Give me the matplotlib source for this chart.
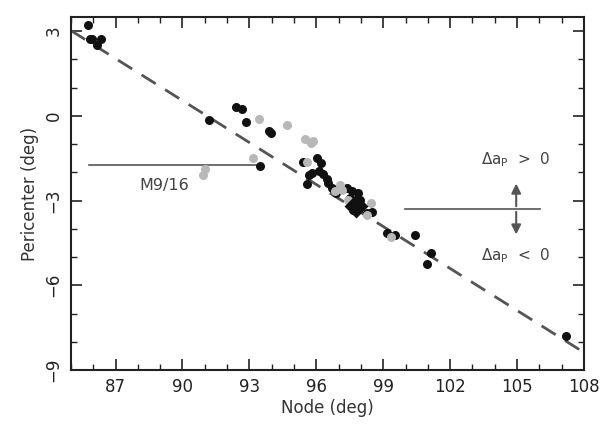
import matplotlib
matplotlib.use("Agg")
import matplotlib.pyplot as plt

plt.rcParams['font.family'] = ['DejaVu Sans']
plt.rcParams['mathtext.fontset'] = 'dejavusans'

# Data
black_node = [85.75, 85.85, 85.96, 86.15, 86.36, 91.20, 92.42, 92.68, 92.83, 93.88, 93.98,
              95.42, 96.02, 96.20, 93.48, 95.69, 95.57, 95.79, 96.13, 96.31, 96.47, 96.54,
              96.69, 96.88, 97.60, 97.88, 97.96, 97.81, 97.66, 97.51, 97.36, 98.48, 98.25,
              99.16, 99.53, 100.43, 101.14, 100.95, 107.2]
black_peri = [3.22, 2.72, 2.72, 2.51, 2.73, -0.15, 0.32, 0.23, -0.20, -0.53, -0.62,
              -1.62, -1.50, -1.68, -1.78, -2.09, -2.40, -2.01, -1.95, -2.06, -2.25, -2.39,
              -2.57, -2.73, -2.66, -2.74, -2.98, -3.22, -3.33, -2.91, -2.57, -3.39, -3.45,
              -4.16, -4.22, -4.22, -4.87, -5.25, -7.80]

gray_node = [93.44, 94.67, 95.51, 95.75, 95.84, 95.56, 93.18, 91.01, 90.91, 96.84, 97.06,
             97.14, 97.43, 98.44, 98.26, 99.34]
gray_peri = [-0.12, -0.32, -0.83, -0.97, -0.88, -1.65, -1.50, -1.89, -2.11, -2.67, -2.45,
             -2.63, -2.98, -3.07, -3.51, -4.28]

nominal_node = [97.78]
nominal_peri = [-3.19]

fit_node = [85.0, 108.0]
fit_peri = [3.02, -8.38]

xticks = [87, 90, 93, 96, 99, 102, 105, 108]
yticks = [3, 0, -3, -6, -9]

fig = plt.figure(figsize=(6.04, 4.26), dpi=100)
ax = fig.add_axes([0.1175, 0.1315, 0.8494, 0.8285])

ax.plot(fit_node, fit_peri, color='#555555', lw=2.0, dashes=(6, 4), zorder=2)
ax.plot(black_node, black_peri, 'o', color='#111111', ms=6.5, mec='none', zorder=3)
ax.plot(gray_node, gray_peri, 'o', color='#b8b8b8', ms=6.5, mec='none', zorder=4)
ax.plot(nominal_node, nominal_peri, 'D', color='#111111', ms=12, mec='none', zorder=5)

# Annotations
ax.plot([85.81, 93.48], [-1.74, -1.74], color='#555555', lw=1.2, zorder=1)
ax.text(89.2, -2.45, 'M9/16', ha='center', va='center', fontsize=11.5, color='#444444')

ax.plot([99.98, 106.03], [-3.30, -3.30], color='#555555', lw=1.2, zorder=1)
ax.annotate('', xy=(104.96, -2.30), xytext=(104.96, -3.30),
            arrowprops=dict(arrowstyle='-|>', color='#555555', lw=1.5, mutation_scale=14))
ax.annotate('', xy=(104.96, -4.30), xytext=(104.96, -3.30),
            arrowprops=dict(arrowstyle='-|>', color='#555555', lw=1.5, mutation_scale=14))
ax.text(104.96, -1.56, r'$\Delta$a$_\mathrm{P}$  >  0', ha='center', va='center',
        fontsize=11, color='#444444')
ax.text(104.96, -4.96, r'$\Delta$a$_\mathrm{P}$  <  0', ha='center', va='center',
        fontsize=11, color='#444444')

ax.set_xlim(85, 108)
ax.set_ylim(-9, 3.5)
ax.set_xticks(xticks)
ax.set_yticks(yticks)
ax.set_yticklabels(['3', '0', '\u22123', '\u22126', '\u22129'])
ax.set_xticks(range(85, 109), minor=True)
ax.set_yticks(range(-9, 4), minor=True)
ax.tick_params(which='both', direction='in', top=True, right=True, labelsize=12,
               color='#222222', labelcolor='#222222')
ax.tick_params(which='major', length=8, width=1.2, pad=6)
ax.tick_params(which='minor', length=4, width=1.0)
for lab in ax.get_yticklabels():
    lab.set_rotation(90)
    lab.set_va('center')
for s in ax.spines.values():
    s.set_linewidth(1.5)
    s.set_color('#222222')

ax.set_xlabel('Node (deg)', fontsize=12, color='#333333', labelpad=2)
ax.set_ylabel('Pericenter (deg)', fontsize=12, color='#333333', labelpad=4)

fig.savefig('out.png', dpi=100)
